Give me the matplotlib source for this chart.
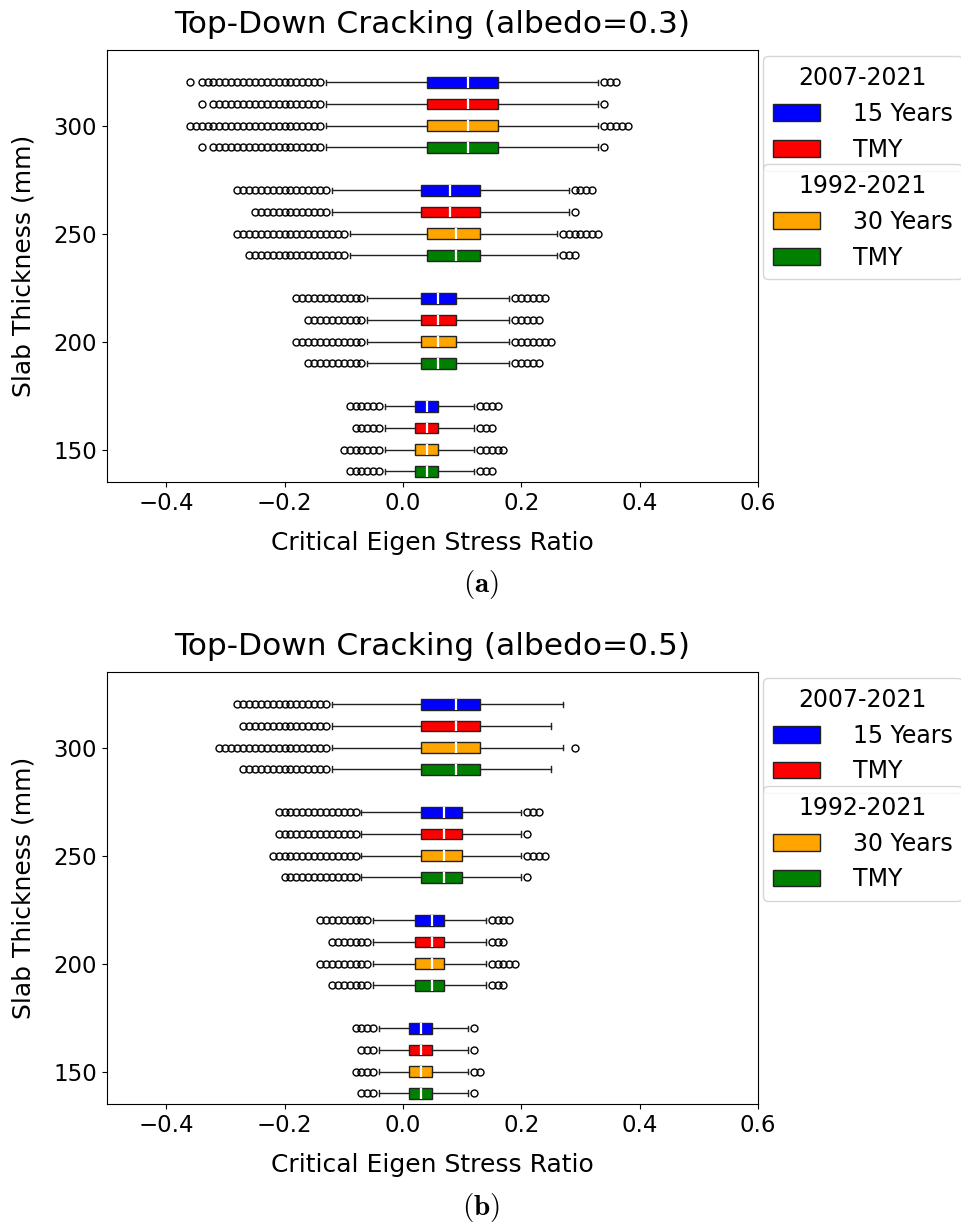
import matplotlib.pyplot as plt
import numpy as np
from matplotlib.patches import Patch

plt.rcParams['mathtext.fontset'] = 'cm'

thickness = [150, 200, 250, 300]
labels = ['15 Years', 'TMY', '30 Years', 'TMY']
colors = ['blue', 'red', 'orange', 'green']
offsets = [20, 10, 0, -10]
titles = ['Top-Down Cracking (albedo=0.3)', 'Top-Down Cracking (albedo=0.5)']
captions = [r'$\mathbf{(a)}$', r'$\mathbf{(b)}$']

# rows: thickness 150, 200, 250, 300 ; columns: 15 Years, TMY, 30 Years, TMY
q1_a = [[0.02] * 4, [0.03] * 4, [0.03, 0.03, 0.04, 0.04], [0.04] * 4]
med_a = [[0.04] * 4, [0.06] * 4, [0.08, 0.08, 0.09, 0.09], [0.11] * 4]
q3_a = [[0.06] * 4, [0.09] * 4, [0.13] * 4, [0.16] * 4]
wlo_a = [[-0.03] * 4, [-0.06] * 4, [-0.12, -0.12, -0.09, -0.09], [-0.13] * 4]
whi_a = [[0.12] * 4, [0.18] * 4, [0.28, 0.28, 0.26, 0.26], [0.33] * 4]
# outliers: every hundredth between the two ends that were seen
lo_a = [[(-0.09, -0.04), (-0.08, -0.04), (-0.10, -0.04), (-0.09, -0.04)],
        [(-0.18, -0.07), (-0.16, -0.07), (-0.18, -0.07), (-0.16, -0.07)],
        [(-0.28, -0.13), (-0.25, -0.13), (-0.28, -0.10), (-0.26, -0.10)],
        [(-0.34, -0.14), (-0.32, -0.14), (-0.36, -0.14), (-0.32, -0.14)]]
hi_a = [[(0.13, 0.16), (0.13, 0.15), (0.13, 0.17), (0.13, 0.15)],
        [(0.19, 0.24), (0.19, 0.23), (0.19, 0.25), (0.19, 0.23)],
        [(0.29, 0.32), (0.29, 0.29), (0.27, 0.33), (0.27, 0.29)],
        [(0.34, 0.36), (0.34, 0.34), (0.34, 0.38), (0.34, 0.34)]]
extra_a = {(3, 0): [-0.36], (3, 1): [-0.34], (3, 3): [-0.34]}

q1_b = [[0.01] * 4, [0.02] * 4, [0.03] * 4, [0.03] * 4]
med_b = [[0.03] * 4, [0.05] * 4, [0.07] * 4, [0.09] * 4]
q3_b = [[0.05] * 4, [0.07] * 4, [0.10] * 4, [0.13] * 4]
wlo_b = [[-0.04] * 4, [-0.05] * 4, [-0.07] * 4, [-0.12] * 4]
whi_b = [[0.11] * 4, [0.14] * 4, [0.20] * 4, [0.27, 0.25, 0.27, 0.25]]
lo_b = [[(-0.08, -0.05), (-0.07, -0.05), (-0.08, -0.05), (-0.07, -0.05)],
        [(-0.14, -0.06), (-0.12, -0.06), (-0.14, -0.06), (-0.12, -0.06)],
        [(-0.21, -0.08), (-0.21, -0.08), (-0.22, -0.08), (-0.20, -0.08)],
        [(-0.28, -0.13), (-0.27, -0.13), (-0.31, -0.13), (-0.27, -0.13)]]
hi_b = [[(0.12, 0.12), (0.12, 0.12), (0.12, 0.13), (0.12, 0.12)],
        [(0.15, 0.18), (0.15, 0.17), (0.15, 0.19), (0.15, 0.17)],
        [(0.21, 0.23), (0.21, 0.21), (0.21, 0.24), (0.21, 0.21)],
        [None, None, (0.29, 0.29), None]]
extra_b = {}


def hundredths(rng):
    if rng is None:
        return []
    return list(np.round(np.arange(rng[0], rng[1] + 0.005, 0.01), 2))


def draw_panel(ax, q1, med, q3, wlo, whi, lo, hi, extra):
    for i, t in enumerate(thickness):
        for j in range(4):
            fl = hundredths(lo[i][j]) + hundredths(hi[i][j]) + extra.get((i, j), [])
            st = dict(med=med[i][j], q1=q1[i][j], q3=q3[i][j],
                      whislo=wlo[i][j], whishi=whi[i][j], fliers=fl)
            ax.bxp([st], positions=[t + offsets[j]], widths=5,
                   orientation='horizontal', patch_artist=True,
                   boxprops=dict(facecolor=colors[j], edgecolor='#222222', lw=1),
                   medianprops=dict(color='white', lw=1.6),
                   whiskerprops=dict(color='#222222', lw=1),
                   capprops=dict(color='#222222', lw=1),
                   flierprops=dict(marker='o', mfc='none', mec='black',
                                   ms=5, mew=1))
    ax.set_xlim(-0.5, 0.6)
    ax.set_ylim(135, 335)
    ax.set_yticks(thickness)
    ax.set_yticklabels([str(t) for t in thickness])
    ax.set_xticks([-0.4, -0.2, 0.0, 0.2, 0.4, 0.6])
    ax.tick_params(labelsize=16.5)
    ax.set_xlabel('Critical Eigen Stress Ratio', fontsize=18, labelpad=12)
    ax.set_ylabel('Slab Thickness (mm)', fontsize=18, labelpad=13)

    h1 = [Patch(facecolor=colors[k], edgecolor='#222222') for k in (0, 1)]
    h2 = [Patch(facecolor=colors[k], edgecolor='#222222') for k in (2, 3)]
    leg1 = ax.legend(h1, labels[:2], title='2007-2021', loc='upper left',
                     bbox_to_anchor=(1.008, 0.985), borderaxespad=0,
                     fontsize=17, title_fontsize=17, handletextpad=1.4)
    ax.add_artist(leg1)
    ax.legend(h2, labels[2:], title='1992-2021', loc='upper left',
              bbox_to_anchor=(1.008, 0.735), borderaxespad=0,
              fontsize=17, title_fontsize=17, handletextpad=1.4)


fig = plt.figure(figsize=(9.62, 12.25), dpi=100)
ax_a = fig.add_axes([0.1112, 0.6065, 0.6767, 0.3527])
ax_b = fig.add_axes([0.1112, 0.0988, 0.6767, 0.3527])

draw_panel(ax_a, q1_a, med_a, q3_a, wlo_a, whi_a, lo_a, hi_a, extra_a)
draw_panel(ax_b, q1_b, med_b, q3_b, wlo_b, whi_b, lo_b, hi_b, extra_b)

for ax, title in zip((ax_a, ax_b), titles):
    ax.set_title(title, fontsize=22.5, pad=12)

fig.text(0.5, 1 - 585 / 1225, captions[0], ha='center', va='center', fontsize=21)
fig.text(0.5, 1 - 1208 / 1225, captions[1], ha='center', va='center', fontsize=21)

fig.savefig('out.png', dpi=100)
